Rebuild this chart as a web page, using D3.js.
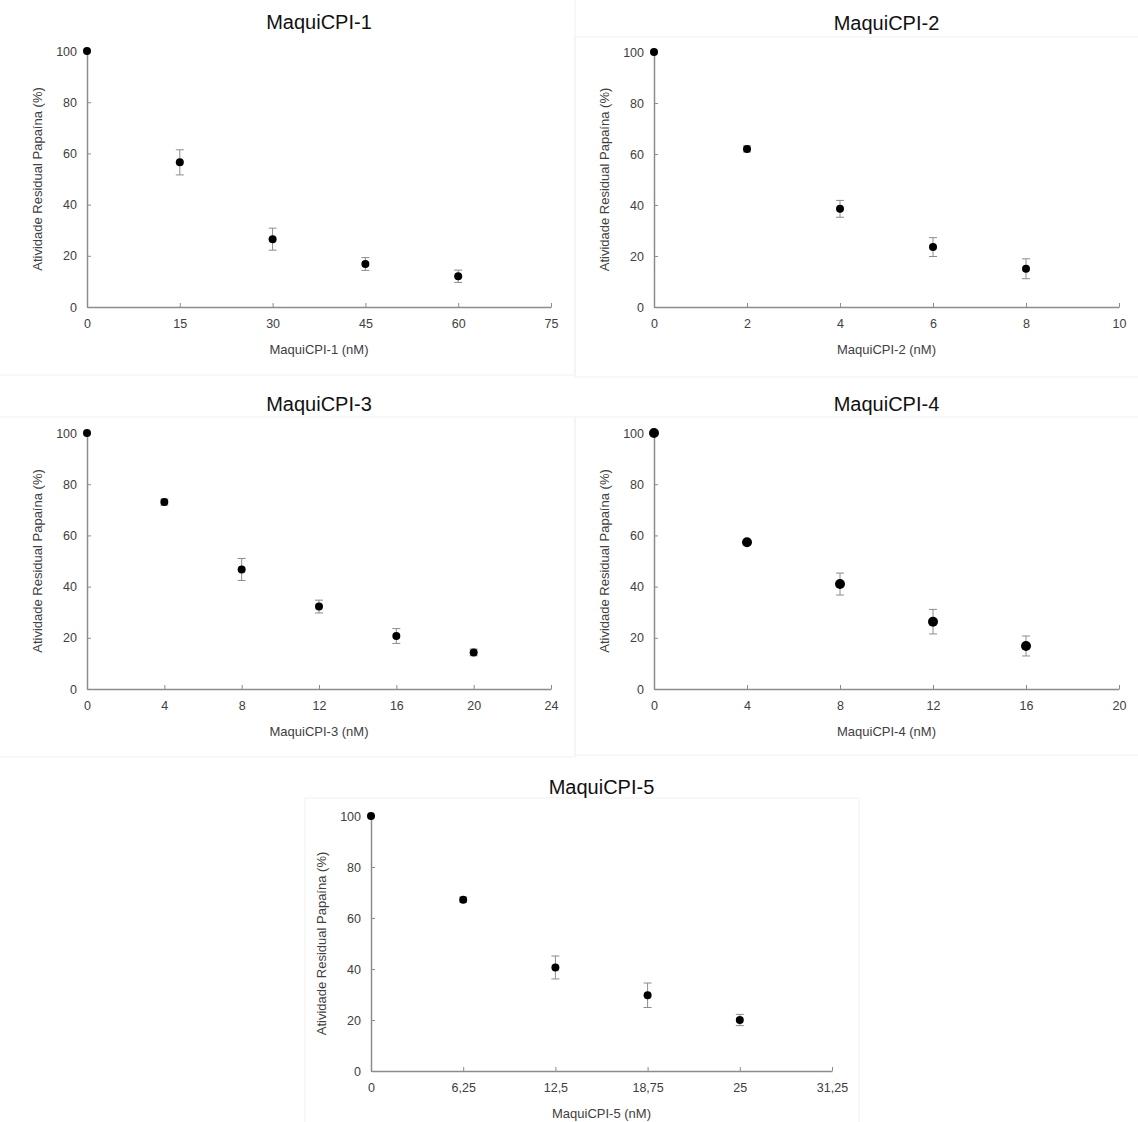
<!DOCTYPE html>
<html>
<head>
<meta charset="utf-8">
<script src="https://d3js.org/d3.v7.min.js"></script>
<style>
  body { margin: 0; background: #fff; }
  text { font-family: "Liberation Sans", Arial, sans-serif; }
</style>
</head>
<body>
<svg id="chart" width="1138" height="1122"></svg>
<script>
// -------- data --------
const titles = ["MaquiCPI-1", "MaquiCPI-2", "MaquiCPI-3", "MaquiCPI-4", "MaquiCPI-5"];

const conc1 = [0, 15, 30, 45, 60];
const act1 = [100, 56.5, 26.5, 16.8, 12];
const err1 = [0, 4.9, 4.3, 2.5, 2.4];

const conc2 = [0, 2, 4, 6, 8];
const act2 = [100, 62, 38.5, 23.5, 15];
const err2 = [0, 1.2, 3.3, 3.7, 3.9];

const conc3 = [0, 4, 8, 12, 16, 20];
const act3 = [100, 73, 46.7, 32.2, 20.7, 14.3];
const err3 = [0, 1.2, 4.3, 2.5, 2.9, 1.3];

const conc4 = [0, 4, 8, 12, 16];
const act4 = [100, 57.3, 41, 26.3, 16.8];
const err4 = [0, 0.8, 4.3, 4.8, 3.9];

const conc5 = [0, 6.25, 12.5, 18.75, 25];
const act5 = [100, 67.2, 40.6, 29.7, 20];
const err5 = [0, 1, 4.5, 4.8, 2.2];

const xTicks1 = [0, 15, 30, 45, 60, 75];
const xTicks2 = [0, 2, 4, 6, 8, 10];
const xTicks3 = [0, 4, 8, 12, 16, 20, 24];
const xTicks4 = [0, 4, 8, 12, 16, 20];
const xTicks5 = [0, 6.25, 12.5, 18.75, 25, 31.25];
const yTicks = [0, 20, 40, 60, 80, 100];

const yLabel = "Atividade Residual Papaína (%)";

// panel layout (plot area in pixels) and faint chart-area frames
const panels = [
  { x: conc1, y: act1, e: err1, ticks: xTicks1, l: 87, t: 51, r: 551, b: 307, rad: 4, frame: [-2, -2, 577, 377] },
  { x: conc2, y: act2, e: err2, ticks: xTicks2, l: 654, t: 52, r: 1119, b: 307, rad: 4, frame: [575, 37, 565, 340] },
  { x: conc3, y: act3, e: err3, ticks: xTicks3, l: 87, t: 433, r: 551, b: 689, rad: 4, frame: [-2, 417, 577, 340] },
  { x: conc4, y: act4, e: err4, ticks: xTicks4, l: 654, t: 433, r: 1119, b: 689, rad: 5, frame: [575, 417, 565, 338] },
  { x: conc5, y: act5, e: err5, ticks: xTicks5, l: 371, t: 816, r: 832, b: 1071, rad: 4, frame: [305, 798, 554, 330] }
];

const svg = d3.select("#chart");
const axisCol = "#8c8c8c", textCol = "#404040";
const fmt = d => String(d).replace(".", ",");

// faint frames first so they sit behind everything
panels.forEach(p => {
  svg.append("rect")
    .attr("x", p.frame[0]).attr("y", p.frame[1])
    .attr("width", p.frame[2]).attr("height", p.frame[3])
    .attr("fill", "none").attr("stroke", "#f2f2f2").attr("stroke-width", 1);
});

panels.forEach((p, i) => {
  const xs = d3.scaleLinear().domain([0, d3.max(p.ticks)]).range([p.l, p.r]);
  const ys = d3.scaleLinear().domain([0, 100]).range([p.b, p.t]);
  const g = svg.append("g");
  const cx = (p.l + p.r) / 2;

  // title
  g.append("text")
    .attr("x", cx).attr("y", p.t - 22)
    .attr("text-anchor", "middle")
    .attr("font-size", 20).attr("fill", "#111")
    .text(titles[i]);

  // x axis, ticks inside
  const xAxis = g.append("g")
    .attr("transform", `translate(0,${p.b})`)
    .call(d3.axisBottom(xs).tickValues(p.ticks).tickFormat(fmt).tickSizeInner(-4).tickSizeOuter(0).tickPadding(12));
  // y axis, ticks inside
  const yAxis = g.append("g")
    .attr("transform", `translate(${p.l},0)`)
    .call(d3.axisLeft(ys).tickValues(yTicks).tickSizeInner(-4).tickSizeOuter(0).tickPadding(10));

  [xAxis, yAxis].forEach(a => {
    a.select(".domain").attr("stroke", axisCol).attr("stroke-width", 1.5);
    a.selectAll(".tick line").attr("stroke", axisCol).attr("stroke-width", 1);
    a.selectAll(".tick text").attr("fill", textCol).attr("font-size", 12.5)
      .attr("font-family", "Liberation Sans, Arial, sans-serif");
  });

  // axis labels
  g.append("text")
    .attr("x", cx).attr("y", p.b + 47)
    .attr("text-anchor", "middle")
    .attr("font-size", 13).attr("fill", textCol)
    .text(titles[i] + " (nM)");
  g.append("text")
    .attr("transform", `translate(${p.l - 45},${(p.t + p.b) / 2}) rotate(-90)`)
    .attr("text-anchor", "middle")
    .attr("font-size", 13).attr("fill", textCol)
    .text(yLabel);

  // error bars
  const pts = p.x.map((d, k) => ({ x: d, y: p.y[k], e: p.e[k] }));
  const eb = g.append("g").attr("stroke", "#8c8c8c").attr("stroke-width", 1);
  pts.filter(d => d.e > 0).forEach(d => {
    const X = xs(d.x), y1 = ys(d.y + d.e), y2 = ys(d.y - d.e);
    eb.append("line").attr("x1", X).attr("x2", X).attr("y1", y1).attr("y2", y2);
    eb.append("line").attr("x1", X - 4).attr("x2", X + 4).attr("y1", y1).attr("y2", y1);
    eb.append("line").attr("x1", X - 4).attr("x2", X + 4).attr("y1", y2).attr("y2", y2);
  });

  // markers
  g.selectAll("circle")
    .data(pts)
    .join("circle")
    .attr("cx", d => xs(d.x))
    .attr("cy", d => ys(d.y))
    .attr("r", p.rad)
    .attr("fill", "#000");
});
</script>
</body>
</html>
